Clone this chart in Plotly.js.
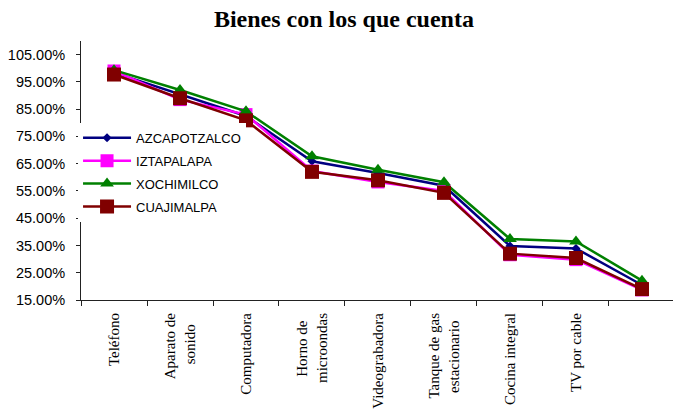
<!DOCTYPE html>
<html>
<head>
<meta charset="utf-8">
<script src="https://cdn.plot.ly/plotly-3.0.1.min.js"></script>
<style>html,body{margin:0;padding:0;background:#fff;}#chart{width:673px;height:413px;}</style>
</head>
<body>
<div id="chart"></div>
<script>
// Category tick labels (last category has no label in the original).
// Shorter lines of two-line labels are padded so both lines appear centred, as in the original.
var categories = ["Teléfono", "Aparato de<br>sonido\u00a0\u00a0\u00a0", "Computadora", "Horno de\u00a0\u00a0<br>microondas",
  "Videograbadora", "Tanque de gas<br>estacionario\u00a0\u00a0", "Cocina integral", "TV por cable", ""];
var seriesNames = ["AZCAPOTZALCO", "IZTAPALAPA", "XOCHIMILCO", "CUAJIMALPA"];
var azcapotzalco = [98.4, 90.5, 82.5, 65.9, 61.6, 56.9, 34.8, 33.9, 20.5];
var iztapalapa   = [99.0, 88.5, 83.0, 62.3, 58.3, 55.0, 31.6, 29.8, 18.7];
var xochimilco   = [99.3, 92.0, 84.2, 67.7, 62.8, 58.2, 37.4, 36.5, 22.1];
var cuajimalpa   = [97.7, 89.0, 80.9, 62.0, 58.9, 54.3, 32.0, 30.4, 19.0];
var yTicks = [15, 25, 35, 45, 55, 65, 75, 85, 95, 105];
var yTickText = ["15.00%", "25.00%", "35.00%", "45.00%", "55.00%", "65.00%", "75.00%", "85.00%", "95.00%", "105.00%"];

var xIdx = categories.map(function(_, i){ return i; });
var styles = [
  {color:'#000080', symbol:'diamond', size:7},
  {color:'#FF00FF', symbol:'square', size:13},
  {color:'#008000', symbol:'triangle-up', size:12},
  {color:'#800000', symbol:'square', size:14}
];
var values = [azcapotzalco, iztapalapa, xochimilco, cuajimalpa];
var traces = values.map(function(v, k){
  return {
    x: xIdx, y: v, name: seriesNames[k], type:'scatter', mode:'lines+markers',
    legendgroup: 'g'+k,
    line:{color:styles[k].color, width:2.5},
    marker:{color:styles[k].color, symbol:styles[k].symbol, size:styles[k].size, line:{width:0}}
  };
});

var layout = {
  width:673, height:413,
  margin:{l:81, r:0, t:41.4, b:112.7, pad:0},
  paper_bgcolor:'#fff', plot_bgcolor:'#fff',
  title:{text:'Bienes con los que cuenta', xref:'container', yref:'container',
    x:0.511, xanchor:'center', y:1-19/413, yanchor:'middle',
    font:{family:'Liberation Serif, Times New Roman, serif', size:24, color:'#000', weight:'bold'}},
  showlegend:true,
  legend:{x:-0.005, xanchor:'left', y:0.684, yanchor:'top', bgcolor:'#fff', borderwidth:0,
    itemwidth:48, tracegroupgap:3,
    font:{family:'Liberation Sans, Arial, sans-serif', size:13, color:'#000'}},
  xaxis:{type:'linear', range:[-0.5, 8.47], tickmode:'array', tickvals:xIdx, ticktext:categories,
    tickangle:-90, ticks:'', ticklabelstandoff:6, showgrid:false, zeroline:false,
    showline:true, linecolor:'#222', linewidth:1,
    minor:{ticks:'outside', tick0:0.5, dtick:1, ticklen:5, tickcolor:'#222', showgrid:false},
    tickfont:{family:'Liberation Serif, Times New Roman, serif', size:15, color:'#000'}},
  yaxis:{range:[15,110], tickmode:'array', tickvals:yTicks, ticktext:yTickText,
    ticks:'outside', ticklen:4, tickcolor:'#222', showgrid:false, zeroline:false,
    showline:true, linecolor:'#222', linewidth:1, ticklabelstandoff:8,
    tickfont:{family:'Liberation Sans, Arial, sans-serif', size:14.5, color:'#000'}}
};
Plotly.newPlot('chart', traces, layout, {displayModeBar:false, staticPlot:true});
</script>
</body>
</html>
